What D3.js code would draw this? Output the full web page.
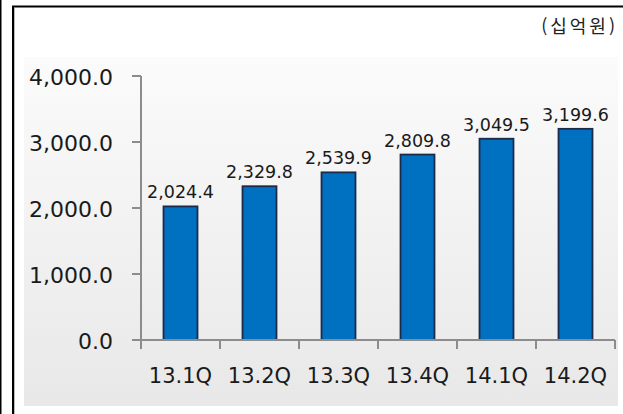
<!DOCTYPE html>
<html lang="ko">
<head>
  <meta charset="UTF-8">
  <title>분기별 실적</title>
  <script src="https://d3js.org/d3.v7.min.js"></script>
  <style>
    html, body { margin: 0; background: #fff; overflow: hidden; }
    svg { display: block; }
    text { font-family: 'DejaVu Sans', Verdana, sans-serif; fill: #1a1a1a; }
  </style>
</head>
<body>
  <div id="chart"></div>
  <script>
    const quarters = ["13.1Q", "13.2Q", "13.3Q", "13.4Q", "14.1Q", "14.2Q"];
    const values = [2024.4, 2329.8, 2539.9, 2809.8, 3049.5, 3199.6];
    const yTicks = [0, 1000, 2000, 3000, 4000];
    const unitLabel = "(십억원)";

    const width = 623, height = 414;
    const svg = d3.select("#chart").append("svg")
      .attr("width", width).attr("height", height);

    // plot area gradient
    const grad = svg.append("defs").append("linearGradient")
      .attr("id", "bg").attr("x1", 0).attr("y1", 0).attr("x2", 0).attr("y2", 1);
    grad.append("stop").attr("offset", "0%").attr("stop-color", "#fbfbfb");
    grad.append("stop").attr("offset", "100%").attr("stop-color", "#e8e8e8");
    svg.append("rect").attr("x", 24).attr("y", 57).attr("width", 594).attr("height", 349)
      .attr("fill", "url(#bg)");

    svg.append("text")
      .attr("x", 618).attr("y", 33)
      .attr("text-anchor", "end")
      .style("font-family", "'Noto Sans CJK KR', sans-serif")
      .style("font-size", "18px")
      .style("letter-spacing", "3px")
      .style("fill", "#222")
      .text(unitLabel);

    const x = d3.scaleBand().domain(quarters).range([141, 615])
      .paddingInner(0.57).paddingOuter(0.285);
    const y = d3.scaleLinear().domain([0, 4000]).range([340, 76]);
    const axisColor = "#8c8c8c";

    // y axis
    const yAxis = svg.append("g");
    yAxis.append("line").attr("x1", 141).attr("x2", 141)
      .attr("y1", y(4000)).attr("y2", y(0))
      .attr("stroke", axisColor).attr("stroke-width", 2);
    yAxis.selectAll(".yt").data(yTicks).enter().append("line")
      .attr("x1", 132).attr("x2", 141)
      .attr("y1", d => y(d)).attr("y2", d => y(d))
      .attr("stroke", axisColor).attr("stroke-width", 2);
    yAxis.selectAll(".yl").data(yTicks).enter().append("text")
      .attr("x", 113).attr("y", d => y(d) + 8.5)
      .attr("text-anchor", "end")
      .style("font-size", "22px")
      .text(d => d3.format(",.1f")(d));

    // bars
    svg.selectAll(".bar").data(values).enter().append("rect")
      .attr("x", (d, i) => x(quarters[i]))
      .attr("y", d => y(d))
      .attr("width", x.bandwidth())
      .attr("height", d => y(0) - y(d))
      .attr("fill", "#0070c0")
      .attr("stroke", "#1c2b4a")
      .attr("stroke-width", 1.8);

    svg.selectAll(".val").data(values).enter().append("text")
      .attr("x", (d, i) => x(quarters[i]) + x.bandwidth() / 2)
      .attr("y", d => y(d) - 8)
      .attr("text-anchor", "middle")
      .style("font-size", "17.5px")
      .text(d => d3.format(",.1f")(d));

    // x axis
    const boundaries = quarters.map(q => x(q) - x.step() * x.paddingInner() / 2);
    boundaries.push(x.range()[1]);
    svg.append("line").attr("x1", 132).attr("x2", x.range()[1])
      .attr("y1", y(0)).attr("y2", y(0))
      .attr("stroke", axisColor).attr("stroke-width", 2);
    svg.selectAll(".xt").data(boundaries).enter().append("line")
      .attr("x1", d => d).attr("x2", d => d)
      .attr("y1", y(0)).attr("y2", y(0) + 9)
      .attr("stroke", axisColor).attr("stroke-width", 2);
    svg.selectAll(".xl").data(quarters).enter().append("text")
      .attr("x", d => x(d) + x.bandwidth() / 2)
      .attr("y", 383)
      .attr("text-anchor", "middle")
      .style("font-size", "21px")
      .text(d => d);

    // frame: outer left rule, inner left + top rule (top runs off the right edge)
    svg.append("rect").attr("x", 619).attr("y", 8).attr("width", 4).attr("height", height).attr("fill", "#fff");
    svg.append("path").attr("d", "M0.75,0V414").attr("stroke", "#000").attr("stroke-width", 1.5).attr("fill", "none");
    svg.append("path").attr("d", "M14.5,414V8").attr("stroke", "#bbb").attr("stroke-width", 1).attr("fill", "none");
    svg.append("path").attr("d", "M13,414V6.5H623").attr("stroke", "#000").attr("stroke-width", 2).attr("fill", "none");
  </script>
</body>
</html>
